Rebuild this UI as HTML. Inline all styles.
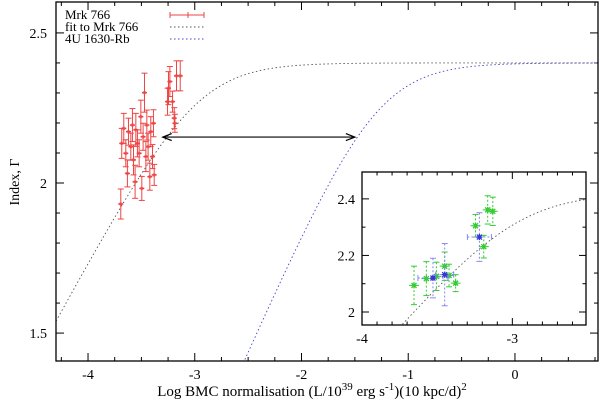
<!DOCTYPE html>
<html><head><meta charset="utf-8"><style>
html,body{margin:0;padding:0;background:#fff;overflow:hidden;}
svg{display:block;font-family:"Liberation Serif",serif;}
</style></head><body>
<svg id="c" width="600" height="403" viewBox="0 0 600 403" xmlns="http://www.w3.org/2000/svg"></svg>
<script>
// Mrk 766 data
const mrkX=[-3.693,-3.684,-3.665,-3.646,-3.631,-3.621,-3.599,-3.584,-3.574,-3.559,-3.552,-3.537,-3.521,-3.505,-3.496,-3.484,-3.471,-3.458,-3.449,-3.437,-3.421,-3.412,-3.396,-3.387,-3.380,-3.255,-3.246,-3.233,-3.208,-3.192,-3.186,-3.171,-3.136];
const mrkY=[1.93,2.132,2.182,2.099,2.032,2.171,2.121,2.193,2.077,2.004,2.177,2.132,2.099,2.221,1.982,2.154,2.301,2.088,2.193,2.121,2.021,2.171,2.088,2.199,2.027,2.271,2.316,2.338,2.271,2.216,2.199,2.357,2.357];
const mrkErr=[0.05,0.05,0.05,0.045,0.045,0.045,0.045,0.055,0.05,0.055,0.055,0.045,0.045,0.055,0.04,0.045,0.065,0.05,0.05,0.045,0.045,0.05,0.04,0.045,0.035,0.045,0.055,0.05,0.035,0.035,0.03,0.05,0.05];
// inset data
const greenX=[-3.654,-3.572,-3.505,-3.450,-3.421,-3.377,-3.245,-3.190,-3.164,-3.130];
const greenY=[2.094,2.118,2.126,2.162,2.129,2.102,2.305,2.231,2.361,2.356];
const greenErr=[0.068,0.06,0.05,0.05,0.04,0.03,0.04,0.04,0.05,0.05];
const blueX=[-3.528,-3.450,-3.219];
const blueY=[2.120,2.132,2.265];
const blueXErr=[0.1,0.06,0.08];
const blueYErr=[0.07,0.11,0.086];
// fit parameters [Ghi, slope, width, x0]
const fitMrk=[2.4,0.65,0.3,-2.98];
const fit4U=[2.4,0.8,0.3,-1.3];
const fitInset=[2.42,0.6,0.25,-2.97];
const xTicks=[-4,-3,-2,-1,0];
const yTicks=[1.5,2,2.5];
const insetXTicks=[-4,-3];
const insetYTicks=[2,2.2,2.4];

const NS="http://www.w3.org/2000/svg";
const svg=document.getElementById('c');
function mk(t,a,p){const e=document.createElementNS(NS,t);for(const k in a)e.setAttribute(k,a[k]);(p||svg).appendChild(e);return e;}
function fitF(p,x){return p[0]-p[1]*p[2]*Math.log(1+Math.exp((p[3]-x)/p[2]));}

const L=56,R=598,T=2,B=361;
const X0=-4.30,X1=0.778,Y0=1.407,Y1=2.603;
const sx=v=>L+(v-X0)/(X1-X0)*(R-L);
const sy=v=>B-(v-Y0)/(Y1-Y0)*(B-T);

const clip=mk('clipPath',{id:'mc'});mk('rect',{x:L,y:T,width:R-L,height:B-T},clip);
const ci=mk('clipPath',{id:'ic'});

const tg=mk('g',{});
for(let v=-4.5;v<=0.75;v+=0.25){const x=sx(v);if(x<L||x>R)continue;const maj=Math.abs(v-Math.round(v))<1e-6;const len=maj?8:4;
 mk('line',{x1:x,y1:B,x2:x,y2:B-len,stroke:'#000','stroke-width':1},tg);mk('line',{x1:x,y1:T,x2:x,y2:T+len,stroke:'#000','stroke-width':1},tg);}
for(let v=1.4;v<=2.6;v+=0.1){const y=sy(v);if(y<T||y>B)continue;const maj=Math.abs(v*2-Math.round(v*2))<1e-6;const len=maj?8:4;
 mk('line',{x1:L,y1:y,x2:L+len,y2:y,stroke:'#000','stroke-width':1},tg);mk('line',{x1:R,y1:y,x2:R-len,y2:y,stroke:'#000','stroke-width':1},tg);}
xTicks.forEach(v=>{const t=mk('text',{x:sx(v),y:B+18,'text-anchor':'middle','font-size':14});t.textContent=v;});
yTicks.forEach(v=>{const t=mk('text',{x:L-9,y:sy(v)+5,'text-anchor':'end','font-size':14});t.textContent=v;});

function curve(p,sxf,syf,xa,xb,col,name,cp){let d='';for(let i=0;i<=300;i++){const x=xa+(xb-xa)*i/300;d+=(i?'L':'M')+sxf(x).toFixed(2)+','+syf(fitF(p,x)).toFixed(2);}
 const e=mk('path',{d:d,fill:'none',stroke:col,'stroke-width':0.9,'stroke-dasharray':'1.5,2.5','clip-path':'url(#'+cp+')'});}
curve(fitMrk,sx,sy,X0,X1,'#555','fit-mrk766-curve','mc');
curve(fit4U,sx,sy,X0,X1,'#4444cc','4u1630-curve','mc');

const pg=mk('g',{});
mrkX.forEach((x,i)=>{const px=sx(x),py=sy(mrkY[i]),e1=sy(mrkY[i]+mrkErr[i]),e2=sy(mrkY[i]-mrkErr[i]);const c='#ee4444';
 mk('line',{x1:px,y1:e1,x2:px,y2:e2,stroke:c,'stroke-width':1},pg);mk('line',{x1:px-3,y1:e1,x2:px+3,y2:e1,stroke:c},pg);mk('line',{x1:px-3,y1:e2,x2:px+3,y2:e2,stroke:c},pg);
 mk('line',{x1:px-2.5,y1:py,x2:px+2.5,y2:py,stroke:c,'stroke-width':1.5},pg);mk('circle',{cx:px,cy:py,r:1.8,fill:c,opacity:0.6},pg);});

const ag=mk('g',{});
const ax1=sx(-3.3),ax2=sx(-1.5),ay=sy(2.153);
mk('line',{x1:ax1,y1:ay,x2:ax2,y2:ay,stroke:'#000','stroke-width':1.2},ag);
mk('path',{d:`M${ax1+9},${ay-3.5}L${ax1},${ay}L${ax1+9},${ay+3.5}M${ax2-9},${ay-3.5}L${ax2},${ay}L${ax2-9},${ay+3.5}`,fill:'none',stroke:'#000','stroke-width':1.2},ag);

const fr=mk('rect',{x:L,y:T,width:R-L,height:B-T,fill:'none',stroke:'#000','stroke-width':1.3});

const lg=mk('g',{'font-size':13});
[['Mrk 766',15,'#ee4444',''],['fit to Mrk 766',27,'#555','1.5,2.5'],['4U 1630-Rb',39,'#4444cc','1.5,2.5']].forEach(r=>{
 const t=mk('text',{x:65,y:r[1]+4},lg);t.textContent=r[0];
 mk('line',{x1:170,y1:r[1],x2:204,y2:r[1],stroke:r[2],'stroke-width':1,'stroke-dasharray':r[3]},lg);
 if(!r[3]){[170,188,204].forEach(x=>mk('line',{x1:x,y1:r[1]-3,x2:x,y2:r[1]+3,stroke:r[2]},lg));}});

const xt=mk('text',{x:312,y:396,'text-anchor':'middle','font-size':15});
xt.innerHTML='Log BMC normalisation (L/10<tspan dy="-6" font-size="11">39</tspan><tspan dy="6"> erg s</tspan><tspan dy="-6" font-size="11">-1</tspan><tspan dy="6">)(10 kpc/d)</tspan><tspan dy="-6" font-size="11">2</tspan>';
const yt=mk('text',{x:0,y:0,'text-anchor':'middle','font-size':14,transform:'translate(19,182) rotate(-90)'});yt.textContent='Index, Γ';

const IL=362,IR=586,IT=172,IB=325;
const IX0=-4,IX1=-2.51,IY0=1.954,IY1=2.495;
const ix=v=>IL+(v-IX0)/(IX1-IX0)*(IR-IL);
const iy=v=>IB-(v-IY0)/(IY1-IY0)*(IB-IT);
mk('rect',{x:IL,y:IT,width:IR-IL,height:IB-IT},ci);
const ig=mk('g',{});
mk('rect',{x:IL,y:IT,width:IR-IL,height:IB-IT,fill:'#fff'},ig);
for(let v=-4;v<=-2.5;v+=0.1){const x=ix(v);if(x>IR)continue;const maj=Math.abs(v-Math.round(v))<1e-6;const len=maj?7:3.5;
 mk('line',{x1:x,y1:IB,x2:x,y2:IB-len,stroke:'#000'},ig);mk('line',{x1:x,y1:IT,x2:x,y2:IT+len,stroke:'#000'},ig);}
for(let v=2;v<=2.49;v+=0.1){const y=iy(v);const maj=Math.abs(v*5-Math.round(v*5))<1e-6;const len=maj?7:3.5;
 mk('line',{x1:IL,y1:y,x2:IL+len,y2:y,stroke:'#000'},ig);mk('line',{x1:IR,y1:y,x2:IR-len,y2:y,stroke:'#000'},ig);}
insetXTicks.forEach(v=>{const t=mk('text',{x:ix(v),y:IB+18,'text-anchor':'middle','font-size':14},ig);t.textContent=v;});
insetYTicks.forEach(v=>{const t=mk('text',{x:IL-7,y:iy(v)+5,'text-anchor':'end','font-size':14},ig);t.textContent=v;});
let d='';for(let i=0;i<=200;i++){const x=IX0+(IX1-IX0)*i/200;d+=(i?'L':'M')+ix(x).toFixed(2)+','+iy(fitF(fitInset,x)).toFixed(2);}
const icv=mk('path',{d:d,fill:'none',stroke:'#555','stroke-width':0.9,'stroke-dasharray':'1.5,2.5','clip-path':'url(#ic)'},ig);
function star(g,px,py,c){mk('path',{d:`M${px-3},${py}H${px+3}M${px},${py-3}V${py+3}M${px-2.5},${py-2.5}L${px+2.5},${py+2.5}M${px-2.5},${py+2.5}L${px+2.5},${py-2.5}`,stroke:c,'stroke-width':1.3},g);}
greenX.forEach((x,i)=>{const px=ix(x),py=iy(greenY[i]),e1=iy(greenY[i]+greenErr[i]),e2=iy(greenY[i]-greenErr[i]),c='#33cc33';
 const g=mk('g',{},ig);
 mk('line',{x1:px,y1:e1,x2:px,y2:e2,stroke:c,'stroke-dasharray':'2,2'},g);mk('line',{x1:px-3,y1:e1,x2:px+3,y2:e1,stroke:c},g);mk('line',{x1:px-3,y1:e2,x2:px+3,y2:e2,stroke:c},g);
 mk('line',{x1:px-5,y1:py,x2:px+5,y2:py,stroke:c,'stroke-dasharray':'2,2'},g);star(g,px,py,c);});
blueX.forEach((x,i)=>{const px=ix(x),py=iy(blueY[i]),e1=iy(blueY[i]+blueYErr[i]),e2=iy(blueY[i]-blueYErr[i]),h1=ix(x-blueXErr[i]),h2=ix(x+blueXErr[i]),c='#3333dd';
 const g=mk('g',{},ig);
 mk('line',{x1:px,y1:e1,x2:px,y2:e2,stroke:'#8888ee','stroke-dasharray':'2,2'},g);mk('line',{x1:px-3,y1:e1,x2:px+3,y2:e1,stroke:'#8888ee'},g);mk('line',{x1:px-3,y1:e2,x2:px+3,y2:e2,stroke:'#8888ee'},g);
 mk('line',{x1:h1,y1:py,x2:h2,y2:py,stroke:'#8888ee','stroke-dasharray':'2,2'},g);mk('line',{x1:h1,y1:py-3,x2:h1,y2:py+3,stroke:'#8888ee'},g);mk('line',{x1:h2,y1:py-3,x2:h2,y2:py+3,stroke:'#8888ee'},g);
 star(g,px,py,c);});
mk('rect',{x:IL,y:IT,width:IR-IL,height:IB-IT,fill:'none',stroke:'#000','stroke-width':1.3},ig);
</script>
</body></html>
